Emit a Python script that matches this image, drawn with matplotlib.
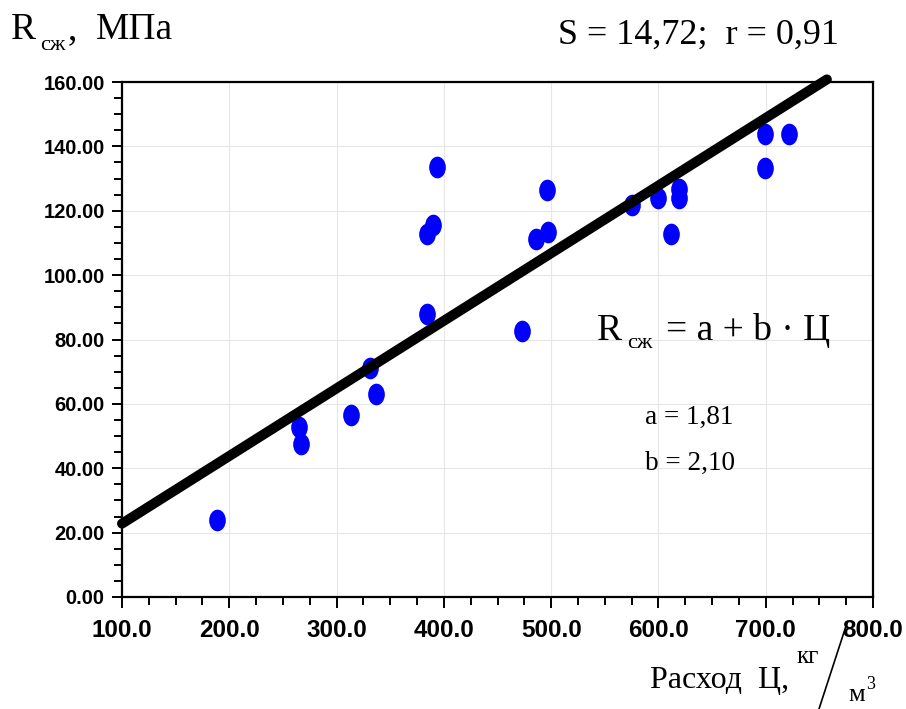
import numpy as np
import matplotlib
matplotlib.use("Agg")
import matplotlib.pyplot as plt
from matplotlib import font_manager as fm
from matplotlib.path import Path
from matplotlib.transforms import Affine2D
from matplotlib.lines import Line2D

# cement consumption (kg/m3) vs compressive strength (MPa)
cement = [188.8, 265.3, 266.5, 313.0, 330.8, 336.7, 384.0, 384.0, 389.8, 393.3, 472.5,
          486.0, 497.3, 495.8, 575.0, 600.0, 611.6, 619.1, 619.1, 699.0, 699.0, 721.6]
strength = [23.8, 52.8, 47.4, 56.6, 71.0, 63.2, 88.0, 112.9, 115.7, 133.5, 82.5,
            111.3, 113.4, 126.3, 121.9, 124.1, 112.9, 126.9, 124.1, 144.0, 133.4, 144.0]

# regression line end points
fit_x = [100.0, 757.0]
fit_y = [22.8, 160.8]

x_ticks = [100, 200, 300, 400, 500, 600, 700, 800]
y_ticks = [0, 20, 40, 60, 80, 100, 120, 140, 160]


def bold_sans(size):
    # pick the regular-width Liberation Sans Bold, not the Narrow one
    for f in fm.fontManager.ttflist:
        if f.name == "Liberation Sans" and "Narrow" not in f.fname and \
                str(f.weight) in ("700", "bold") and f.style == "normal":
            return fm.FontProperties(fname=f.fname, size=size)
    return fm.FontProperties(family="DejaVu Sans", weight="bold", size=size)


W, H = 906, 709
fig = plt.figure(figsize=(W / 100, H / 100), dpi=100)
ax = fig.add_axes([122 / W, 1 - 597 / H, (873 - 122) / W, (597 - 82) / H])


def px(x, y):
    # pixel position (from top-left) -> figure fraction
    return x / W, 1 - y / H


# vertical ellipse marker
ellipse = Path.unit_circle().transformed(Affine2D().scale(0.77, 1.0))

ax.plot(fit_x, fit_y, color="black", lw=7.2, solid_capstyle="round", zorder=3, clip_on=False)
ax.plot(cement, strength, linestyle="none", marker=ellipse, markersize=15.6,
        color="#0000ff", markeredgewidth=0, zorder=2)

ax.set_xlim(100, 800)
ax.set_ylim(0, 160)
ax.set_xticks(x_ticks)
ax.set_yticks(y_ticks)
ax.set_xticks(np.arange(100, 801, 25), minor=True)
ax.set_yticks(np.arange(0, 161, 5), minor=True)
ax.set_xticklabels([f"{v:.1f}" for v in x_ticks])
ax.set_yticklabels([f"{v:.2f}" for v in y_ticks])

ax.grid(True, which="major", color="#e6e6e6", lw=0.8, zorder=0)
ax.set_axisbelow(True)
for s in ax.spines.values():
    s.set_linewidth(1.6)

ax.tick_params(axis="both", which="both", direction="out", width=1.4, top=False, right=False)
ax.tick_params(axis="x", which="major", length=8, pad=8)
ax.tick_params(axis="x", which="minor", length=6)
ax.tick_params(axis="y", which="major", length=7.5, pad=5)
ax.tick_params(axis="y", which="minor", length=6)
xfp = bold_sans(17.5)
yfp = bold_sans(14.5)
for lab in ax.get_xticklabels():
    lab.set_fontproperties(xfp)
for lab in ax.get_yticklabels():
    lab.set_fontproperties(yfp)

serif = "Liberation Serif"

# y axis caption
fig.text(*px(11, 39), "R", family=serif, fontsize=27, va="baseline", ha="left")
fig.text(*px(40, 50), "сж", family=serif, fontsize=16, va="baseline", ha="left")
fig.text(*px(68, 39), ",", family=serif, fontsize=27, va="baseline", ha="left")
fig.text(*px(96, 39), "МПа", family=serif, fontsize=27, va="baseline", ha="left")

# statistics
fig.text(*px(558, 44), "S = 14,72;  r = 0,91", family=serif, fontsize=26, va="baseline", ha="left")

# equation
fig.text(*px(597, 340), "R", family=serif, fontsize=27, va="baseline", ha="left")
fig.text(*px(627, 348), "сж", family=serif, fontsize=16, va="baseline", ha="left")
fig.text(*px(666, 340), "= a + b · Ц", family=serif, fontsize=27, va="baseline", ha="left")
fig.text(*px(645, 424), "a = 1,81", family=serif, fontsize=19.5, va="baseline", ha="left")
fig.text(*px(645, 470), "b = 2,10", family=serif, fontsize=19.5, va="baseline", ha="left")

# x axis caption
fig.text(*px(650, 688), "Расход  Ц,", family=serif, fontsize=23, va="baseline", ha="left")
fig.text(*px(797, 663), "кг", family=serif, fontsize=18, va="baseline", ha="left")
x0, y0 = px(818, 712)
x1, y1 = px(847, 623)
fig.add_artist(Line2D([x0, x1], [y0, y1], transform=fig.transFigure, color="black", lw=1.2))
fig.text(*px(848, 701), "м", family=serif, fontsize=19, va="baseline", ha="left")
fig.text(*px(866, 689), "3", family=serif, fontsize=13, va="baseline", ha="left")

fig.savefig("out.png", dpi=100)
